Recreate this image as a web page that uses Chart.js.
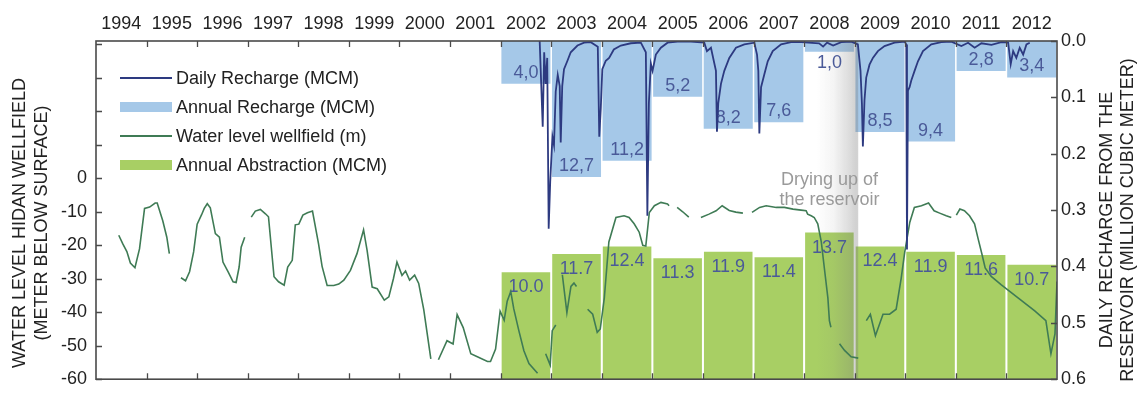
<!DOCTYPE html>
<html>
<head>
<meta charset="utf-8">
<script src="https://cdn.jsdelivr.net/npm/chart.js@4.4.1/dist/chart.umd.min.js"></script>
<style>
  html, body { margin: 0; padding: 0; background: #ffffff; }
  #wrap { width: 1142px; height: 399px; position: relative; }
</style>
</head>
<body>
<div id="wrap"><canvas id="chart" width="1142" height="399"></canvas></div>
<script>
// ---- data ----
const yearLabels = [1994, 1995, 1996, 1997, 1998, 1999, 2000, 2001, 2002, 2003,
                    2004, 2005, 2006, 2007, 2008, 2009, 2010, 2011, 2012];
const barYears = [2002, 2003, 2004, 2005, 2006, 2007, 2008, 2009, 2010, 2011, 2012];
const annualRecharge = [4.0, 12.7, 11.2, 5.2, 8.2, 7.6, 1.0, 8.5, 9.4, 2.8, 3.4];
const annualAbstraction = [10.0, 11.7, 12.4, 11.3, 11.9, 11.4, 13.7, 12.4, 11.9, 11.6, 10.7];

// water level in the wellfield (m below surface); null marks a gap in the record
const levelYears = [
  1994.45, 1994.53, 1994.61, 1994.68, 1994.77, 1994.86, 1994.96, 1995.06, 1995.17, 1995.21, 1995.32, 1995.40, 1995.45, 1995.56,
  1995.68, 1995.77, 1995.85, 1995.93, 1996.00, 1996.09, 1996.14, 1996.20, 1996.26, 1996.31, 1996.36, 1996.44, 1996.51, 1996.61,
  1996.71, 1996.77, 1996.83, 1996.87, 1996.94, 1997.00,
  1997.07, 1997.15, 1997.25, 1997.35, 1997.41, 1997.52, 1997.61, 1997.72, 1997.79, 1997.88, 1997.94, 1998.01, 1998.09, 1998.18,
  1998.28, 1998.40, 1998.47, 1998.57, 1998.70, 1998.80, 1998.90, 1999.03, 1999.16, 1999.29, 1999.36, 1999.46, 1999.56, 1999.70,
  1999.79, 1999.88, 1999.95, 2000.05, 2000.12, 2000.20, 2000.30, 2000.38, 2000.48, 2000.62, 2000.70,
  2000.77, 2000.94, 2001.06, 2001.14, 2001.26, 2001.41, 2001.54, 2001.74, 2001.80, 2001.90, 2001.99, 2002.07, 2002.13, 2002.20,
  2002.26, 2002.36, 2002.46, 2002.56, 2002.73, 2002.81,
  2002.89, 2002.98, 2003.02, 2003.09, 2003.15,
  2003.22, 2003.31, 2003.39, 2003.45, 2003.50, 2003.60,
  2003.72, 2003.82, 2003.91, 2003.97, 2004.05, 2004.14, 2004.28, 2004.44, 2004.54, 2004.64, 2004.74, 2004.81, 2004.87, 2004.94,
  2005.04, 2005.17, 2005.30, 2005.33, 2005.41,
  2005.49, 2005.60, 2005.72, 2005.84,
  2005.96, 2006.12, 2006.26, 2006.38, 2006.52, 2006.65, 2006.79, 2006.88,
  2006.97, 2007.12, 2007.25, 2007.45, 2007.61, 2007.78, 2007.94, 2008.04, 2008.07, 2008.14, 2008.20, 2008.27, 2008.34, 2008.40,
  2008.47, 2008.50, 2008.53, 2008.61,
  2008.70, 2008.80, 2008.93, 2009.07, 2009.15,
  2009.23, 2009.31, 2009.41, 2009.56, 2009.69, 2009.82, 2009.92, 2009.99, 2010.09, 2010.18, 2010.32, 2010.46, 2010.57, 2010.68,
  2010.81, 2010.91, 2010.96,
  2011.01, 2011.08, 2011.17, 2011.27, 2011.37, 2011.44, 2011.52, 2011.58, 2011.70, 2011.90, 2012.23, 2012.56, 2012.78, 2012.88,
  2012.96, 2013.00
];
const levelDepth = [
  -17.0, -19.6, -21.9, -25.3, -26.7, -21.1, -9.0, -8.6, -7.4, -7.4, -12.7, -17.6, -22.5, null,
  -29.7, -30.6, -27.9, -22.0, -13.7, -10.8, -9.0, -7.6, -8.8, -12.7, -16.5, -17.6, -25.0, -27.9,
  -30.9, -31.1, -26.5, -20.6, -17.6, null,
  -11.6, -9.8, -9.3, -10.6, -11.5, -29.4, -30.9, -31.9, -26.5, -24.5, -13.9, -13.7, -11.0, -10.3,
  -9.8, -19.6, -26.3, -32.0, -32.0, -31.6, -30.4, -27.5, -22.5, -15.4, -21.5, -32.5, -33.0, -36.4,
  -35.4, -30.0, -25.0, -29.0, -27.7, -30.4, -28.9, -31.4, -39.2, -53.9, null,
  -54.2, -48.5, -49.5, -40.7, -44.6, -52.4, -53.3, -54.7, -54.7, -51.0, -39.7, -42.4, -36.7, -33.8,
  -39.0, -45.5, -51.5, -55.3, -58.2, null,
  -52.4, -55.8, -45.5, -43.8, null,
  -28.8, -40.1, -32.3, -31.3, -32.3, null,
  -39.1, -40.6, -46.0, -45.0, -35.7, -19.0, -11.7, -11.2, -11.7, -13.6, -16.1, -20.0, -20.2, -10.2,
  -8.2, -7.2, -7.7, -8.2, null,
  -8.7, -10.0, -11.6, null,
  -11.7, -10.7, -9.7, -8.2, -9.6, -10.1, -10.4, null,
  -10.2, -8.7, -8.2, -8.7, -8.7, -9.2, -9.5, -9.7, -10.7, -11.2, -11.7, -13.6, -19.0, -26.8,
  -35.7, -42.5, -44.5, null,
  -49.4, -51.4, -53.3, -53.7, null,
  -42.5, -40.6, -47.0, -40.6, -40.6, -39.1, -29.8, -22.0, -13.1, -8.7, -8.2, -7.4, -9.7, -10.4,
  -11.2, -11.7, null,
  -11.0, -9.2, -9.7, -11.2, -13.6, -18.0, -22.9, -26.8, -29.3, -31.8, -35.7, -39.6, -42.5, -52.4,
  -46.5, -30.8
];

// daily recharge from the reservoir (million cubic meter)
const dailyYears = [
  2002.772, 2002.832, 2002.861, 2002.891, 2002.921, 2002.950, 2002.980, 2003.024, 2003.055, 2003.089,
  2003.129, 2003.168, 2003.188, 2003.218, 2003.253, 2003.321, 2003.386, 2003.519, 2003.650, 2003.782,
  2003.921, 2003.950, 2003.980, 2004.010, 2004.079, 2004.145, 2004.238, 2004.376, 2004.574, 2004.772,
  2004.871, 2004.901, 2004.931, 2004.970, 2005.004, 2005.069, 2005.168, 2005.301, 2005.499, 2005.762,
  2006.026, 2006.079, 2006.158, 2006.257, 2006.277, 2006.303, 2006.356, 2006.422, 2006.521, 2006.653,
  2006.818, 2007.016, 2007.069, 2007.095, 2007.115, 2007.149, 2007.214, 2007.281, 2007.380, 2007.545,
  2007.743, 2007.941, 2008.297, 2008.376, 2008.455, 2008.574, 2008.733, 2008.931, 2009.063, 2009.115,
  2009.143, 2009.162, 2009.194, 2009.228, 2009.293, 2009.360, 2009.459, 2009.590, 2009.788, 2009.986,
  2010.020, 2010.034, 2010.053, 2010.085, 2010.119, 2010.184, 2010.251, 2010.350, 2010.515, 2010.713,
  2010.911, 2011.109, 2011.242, 2011.372, 2011.505, 2011.703, 2011.901, 2012.034, 2012.085, 2012.133,
  2012.196, 2012.263, 2012.331, 2012.396, 2012.461
];
const dailyFlow = [
  0.000, 0.152, 0.020, 0.076, 0.030, 0.333, 0.250, 0.170, 0.185, 0.090,
  0.060, 0.080, 0.180, 0.080, 0.050, 0.035, 0.020, 0.008, 0.003, 0.002,
  0.010, 0.170, 0.120, 0.050, 0.035, 0.030, 0.015, 0.008, 0.004, 0.003,
  0.020, 0.310, 0.110, 0.040, 0.053, 0.024, 0.012, 0.003, 0.001, 0.001,
  0.003, 0.018, 0.012, 0.053, 0.161, 0.110, 0.076, 0.053, 0.030, 0.012,
  0.006, 0.003, 0.024, 0.053, 0.164, 0.082, 0.059, 0.036, 0.018, 0.006,
  0.002, 0.002, 0.004, 0.010, 0.003, 0.008, 0.002, 0.001, 0.006, 0.053,
  0.111, 0.187, 0.105, 0.065, 0.042, 0.030, 0.018, 0.009, 0.003, 0.001,
  0.006, 0.370, 0.088, 0.082, 0.070, 0.053, 0.036, 0.018, 0.006, 0.002,
  0.001, 0.009, 0.003, 0.012, 0.004, 0.007, 0.002, 0.003, 0.041, 0.018,
  0.030, 0.012, 0.024, 0.006, 0.003
];

const levelTicks = [-60, -50, -40, -30, -20, -10, 0, 10, 20, 30, 40];
const dailyTicks = [0, 0.1, 0.2, 0.3, 0.4, 0.5, 0.6];
const dryingSpan = [2008.25, 2009.07];
const dryingText = ['Drying up of', 'the reservoir'];

// ---- styles ----
const FONT = '"Liberation Sans", Arial, Helvetica, sans-serif';
const NAVY = '#2d3a80';
const LEVEL_GREEN = '#3f7b55';
const RECHARGE_BLUE = '#a5c8e8';
const ABSTRACTION_GREEN = '#a8cf64';
const VALUE_COLOR = '#4a5a98';
const AXIS_COLOR = '#4a4a4a';
const TEXT_COLOR = '#222222';

Chart.defaults.font.family = FONT;
Chart.defaults.font.size = 18;
Chart.defaults.color = TEXT_COLOR;

const pts = (xs, ys) => xs.map((x, i) => ({ x: x, y: ys[i] }));

// draws the shaded drying period and the bar value labels above the bars, below the lines
const overlayPlugin = {
  id: 'overlay',
  afterDatasetDraw(chart, args) {
    if (args.index !== 2) return; // recharge bars are the last bars drawn
    const ctx = chart.ctx;
    const area = chart.chartArea;
    const x = chart.scales.x;
    const x0 = x.getPixelForValue(dryingSpan[0]);
    const x1 = x.getPixelForValue(dryingSpan[1]);
    ctx.save();
    const g = ctx.createLinearGradient(x0, 0, x1, 0);
    g.addColorStop(0, 'rgba(120,120,120,0)');
    g.addColorStop(0.4, 'rgba(120,120,120,0.08)');
    g.addColorStop(0.75, 'rgba(120,120,120,0.24)');
    g.addColorStop(0.95, 'rgba(120,120,120,0.34)');
    g.addColorStop(1, 'rgba(120,120,120,0.32)');
    ctx.fillStyle = g;
    ctx.fillRect(x0, area.top, x1 - x0, area.bottom - area.top);

    ctx.font = '18px ' + FONT;
    ctx.fillStyle = VALUE_COLOR;
    ctx.textAlign = 'center';
    ctx.textBaseline = 'middle';
    chart.getDatasetMeta(2).data.forEach((bar, i) => {
      const h = bar.y - bar.base;
      const ty = h < 25 ? bar.y + 11 : bar.y - 11;
      ctx.fillText(annualRecharge[i].toFixed(1).replace('.', ','), bar.x, ty);
    });
    chart.getDatasetMeta(3).data.forEach((bar, i) => {
      ctx.fillText(annualAbstraction[i].toFixed(1), bar.x, bar.y + 15);
    });
    ctx.restore();
  }
};

// frame, inward tick marks, axis titles, legend and annotation
const decorPlugin = {
  id: 'decor',
  afterDraw(chart) {
    const ctx = chart.ctx;
    const a = chart.chartArea;
    const sx = chart.scales.x, sl = chart.scales.yLevel, sr = chart.scales.yDaily;
    ctx.save();
    ctx.strokeStyle = AXIS_COLOR;
    ctx.lineWidth = 1.6;
    ctx.strokeRect(a.left, a.top, a.right - a.left, a.bottom - a.top);
    ctx.lineWidth = 1.3;
    ctx.beginPath();
    yearLabels.slice(1).forEach(yr => {
      const px = Math.round(sx.getPixelForValue(yr)) + 0.5;
      ctx.moveTo(px, a.top); ctx.lineTo(px, a.top + 6);
      ctx.moveTo(px, a.bottom); ctx.lineTo(px, a.bottom - 6);
    });
    levelTicks.forEach(v => {
      const py = Math.round(sl.getPixelForValue(v)) + 0.5;
      ctx.moveTo(a.left, py); ctx.lineTo(a.left + 6, py);
    });
    dailyTicks.forEach(v => {
      const py = Math.round(sr.getPixelForValue(v)) + 0.5;
      ctx.moveTo(a.right, py); ctx.lineTo(a.right - 6, py);
    });
    ctx.stroke();

    // axis titles, both reading bottom to top
    ctx.fillStyle = TEXT_COLOR;
    ctx.font = '18px ' + FONT;
    ctx.textAlign = 'center';
    ctx.textBaseline = 'middle';
    const vtext = (txt, cx, cy) => {
      ctx.save(); ctx.translate(cx, cy); ctx.rotate(-Math.PI / 2);
      ctx.fillText(txt, 0, 0); ctx.restore();
    };
    vtext('WATER LEVEL HIDAN WELLFIELD', 20, 223);
    vtext('(METER BELOW SURFACE)', 42, 223);
    vtext('DAILY RECHARGE FROM THE', 1107, 220);
    vtext('RESERVOIR (MILLION CUBIC METER)', 1128, 220);

    // legend
    const lx0 = 120, lx1 = 172, tx = 176;
    ctx.textAlign = 'left';
    ctx.fillStyle = TEXT_COLOR;
    const rows = [
      { y: 78, kind: 'line', color: NAVY, text: 'Daily Recharge (MCM)' },
      { y: 107, kind: 'box', color: RECHARGE_BLUE, text: 'Annual Recharge (MCM)' },
      { y: 136, kind: 'line', color: LEVEL_GREEN, text: 'Water level wellfield (m)' },
      { y: 165, kind: 'box', color: ABSTRACTION_GREEN, text: 'Annual Abstraction (MCM)' }
    ];
    rows.forEach(r => {
      if (r.kind === 'line') {
        ctx.strokeStyle = r.color; ctx.lineWidth = 2.2;
        ctx.beginPath(); ctx.moveTo(lx0, r.y); ctx.lineTo(lx1, r.y); ctx.stroke();
      } else {
        ctx.fillStyle = r.color;
        ctx.fillRect(lx0, r.y - 5, lx1 - lx0, 10);
      }
      ctx.fillStyle = TEXT_COLOR;
      ctx.fillText(r.text, tx, r.y + 1);
    });

    // annotation of the drying period
    ctx.textAlign = 'center';
    ctx.fillStyle = '#9a9a9a';
    const cx = sx.getPixelForValue((dryingSpan[0] + dryingSpan[1]) / 2);
    ctx.fillText(dryingText[0], cx - 8, 180);
    ctx.fillText(dryingText[1], cx - 8, 200);
    ctx.restore();
  }
};

new Chart(document.getElementById('chart'), {
  data: {
    datasets: [
      {
        type: 'line', label: 'Daily Recharge (MCM)',
        data: pts(dailyYears, dailyFlow), yAxisID: 'yDaily',
        borderColor: NAVY, borderWidth: 1.8, pointRadius: 0, tension: 0, order: 1
      },
      {
        type: 'line', label: 'Water level wellfield (m)',
        data: pts(levelYears, levelDepth), yAxisID: 'yLevel',
        borderColor: LEVEL_GREEN, borderWidth: 1.6, pointRadius: 0, tension: 0,
        spanGaps: false, order: 2
      },
      {
        type: 'bar', label: 'Annual Recharge (MCM)',
        data: pts(barYears.map(y => y + 0.5), annualRecharge), yAxisID: 'yRecharge',
        backgroundColor: RECHARGE_BLUE, grouped: false,
        barPercentage: 0.97, categoryPercentage: 1, order: 3
      },
      {
        type: 'bar', label: 'Annual Abstraction (MCM)',
        data: pts(barYears.map(y => y + 0.5), annualAbstraction), yAxisID: 'yAbstraction',
        backgroundColor: ABSTRACTION_GREEN, grouped: false,
        barPercentage: 0.96, categoryPercentage: 1, order: 4
      }
    ]
  },
  options: {
    responsive: false,
    animation: false,
    layout: { padding: { bottom: 15, left: 0, right: 0, top: 0 } },
    plugins: { legend: { display: false }, tooltip: { enabled: false } },
    scales: {
      x: {
        type: 'linear', position: 'top', min: 1994, max: 2013, offset: false,
        grid: { display: false, drawTicks: false, offset: false }, border: { display: false },
        afterBuildTicks: s => { s.ticks = yearLabels.map(y => ({ value: y + 0.5 })); },
        ticks: { autoSkip: false, maxRotation: 0, padding: 6, color: TEXT_COLOR,
                 callback: v => String(Math.floor(v)) },
        afterFit: s => { s.height = 41; }
      },
      yLevel: {
        type: 'linear', position: 'left', min: -60, max: 41,
        grid: { display: false, drawTicks: false }, border: { display: false },
        afterBuildTicks: s => { s.ticks = levelTicks.map(v => ({ value: v })); },
        ticks: { padding: 9, color: TEXT_COLOR, callback: v => (v <= 0 ? String(v) : '') },
        afterFit: s => { s.width = 96; }
      },
      yDaily: {
        type: 'linear', position: 'right', min: 0, max: 0.6, reverse: true,
        grid: { display: false, drawTicks: false }, border: { display: false },
        afterBuildTicks: s => { s.ticks = dailyTicks.map(v => ({ value: v })); },
        ticks: { padding: 4, color: TEXT_COLOR, callback: v => v.toFixed(1) },
        afterFit: s => { s.width = 85; }
      },
      yRecharge: { type: 'linear', display: false, min: 0, max: 31.6, reverse: true },
      yAbstraction: { type: 'linear', display: false, min: 0, max: 31.6 }
    }
  },
  plugins: [overlayPlugin, decorPlugin]
});
</script>
</body>
</html>
